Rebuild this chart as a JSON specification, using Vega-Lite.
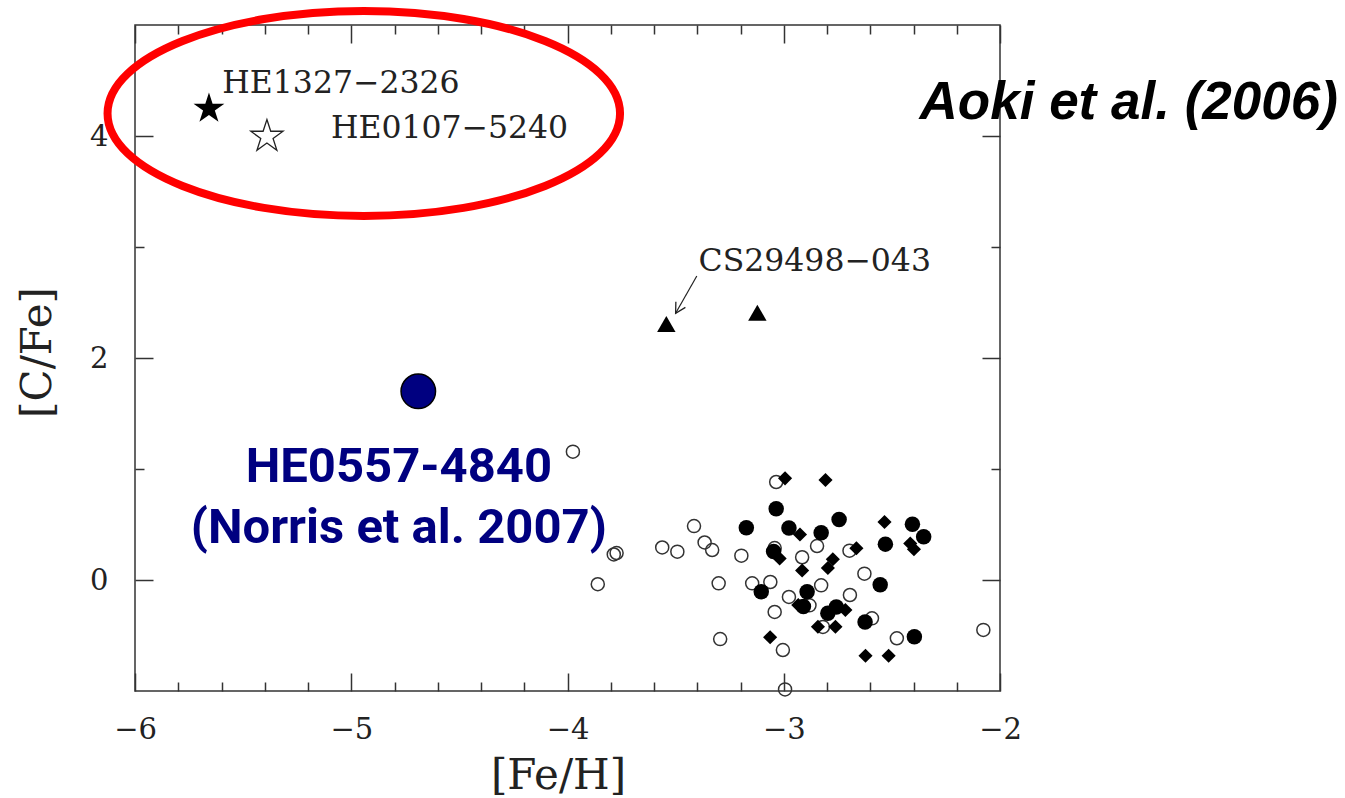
{
  "$schema": "https://vega.github.io/schema/vega-lite/v6.json",
  "autosize": {"type": "none"},
  "padding": {"left": 135, "top": 25, "right": 345, "bottom": 107},
  "width": 865,
  "height": 666,
  "background": "white",
  "config": {
    "view": {"stroke": "#333", "strokeWidth": 1.5},
    "axis": {"grid": false, "domain": false, "tickColor": "#333", "tickWidth": 1.5}
  },
  "datasets": {
    "open": [
      {"feh": -3.975, "cfe": 1.156}, {"feh": -3.786, "cfe": 0.230}, {"feh": -3.773, "cfe": 0.243},
      {"feh": -3.860, "cfe": -0.038}, {"feh": -3.562, "cfe": 0.293}, {"feh": -3.492, "cfe": 0.255},
      {"feh": -3.415, "cfe": 0.486}, {"feh": -3.366, "cfe": 0.338}, {"feh": -3.331, "cfe": 0.270},
      {"feh": -3.301, "cfe": -0.030}, {"feh": -3.294, "cfe": -0.532}, {"feh": -3.196, "cfe": 0.219},
      {"feh": -3.146, "cfe": -0.030}, {"feh": -3.062, "cfe": -0.018}, {"feh": -3.042, "cfe": -0.288},
      {"feh": -3.004, "cfe": -0.631}, {"feh": -2.994, "cfe": -0.986}, {"feh": -3.035, "cfe": 0.883},
      {"feh": -3.042, "cfe": 0.288}, {"feh": -2.846, "cfe": 0.306}, {"feh": -2.915, "cfe": 0.205},
      {"feh": -2.827, "cfe": -0.048}, {"feh": -2.976, "cfe": -0.153}, {"feh": -2.881, "cfe": -0.228},
      {"feh": -2.819, "cfe": -0.423}, {"feh": -2.696, "cfe": 0.264}, {"feh": -2.627, "cfe": 0.057},
      {"feh": -2.694, "cfe": -0.135}, {"feh": -2.592, "cfe": -0.345}, {"feh": -2.477, "cfe": -0.525},
      {"feh": -2.077, "cfe": -0.450}
    ],
    "filled": [
      {"feh": -3.173, "cfe": 0.470}, {"feh": -3.104, "cfe": -0.105}, {"feh": -3.035, "cfe": 0.642},
      {"feh": -2.976, "cfe": 0.468}, {"feh": -2.827, "cfe": 0.426}, {"feh": -2.744, "cfe": 0.545},
      {"feh": -3.047, "cfe": 0.257}, {"feh": -2.892, "cfe": -0.105}, {"feh": -2.909, "cfe": -0.239},
      {"feh": -2.757, "cfe": -0.243}, {"feh": -2.796, "cfe": -0.300}, {"feh": -2.624, "cfe": -0.378},
      {"feh": -2.554, "cfe": -0.042}, {"feh": -2.396, "cfe": -0.511}, {"feh": -2.530, "cfe": 0.323},
      {"feh": -2.405, "cfe": 0.503}, {"feh": -2.353, "cfe": 0.390}
    ],
    "diamond": [
      {"feh": -2.994, "cfe": 0.916}, {"feh": -2.807, "cfe": 0.901}, {"feh": -2.925, "cfe": 0.410},
      {"feh": -3.019, "cfe": 0.194}, {"feh": -2.915, "cfe": 0.086}, {"feh": -2.773, "cfe": 0.187},
      {"feh": -2.796, "cfe": 0.108}, {"feh": -2.664, "cfe": 0.286}, {"feh": -2.534, "cfe": 0.523},
      {"feh": -2.415, "cfe": 0.329}, {"feh": -2.398, "cfe": 0.277}, {"feh": -2.933, "cfe": -0.225},
      {"feh": -2.715, "cfe": -0.270}, {"feh": -2.842, "cfe": -0.421}, {"feh": -2.761, "cfe": -0.421},
      {"feh": -3.063, "cfe": -0.516}, {"feh": -2.622, "cfe": -0.682}, {"feh": -2.515, "cfe": -0.682}
    ],
    "triangles": [{"feh": -3.543, "cfe": 2.306}, {"feh": -3.122, "cfe": 2.408}],
    "starFilled": [{"feh": -5.658, "cfe": 4.26, "star": "HE1327-2326"}],
    "starOpen": [{"feh": -5.39, "cfe": 4.01, "star": "HE0107-5240"}],
    "norris": [{"feh": -4.69, "cfe": 1.70, "star": "HE0557-4840"}],
    "serifLabels": [
      {"feh": -5.596, "cfe": 4.385, "label": "HE1327−2326"},
      {"feh": -5.094, "cfe": 3.979, "label": "HE0107−5240"},
      {"feh": -3.394, "cfe": 2.784, "label": "CS29498−043"}
    ],
    "blueLabels": [
      {"feh": -4.78, "cfe": 0.886, "label": "HE0557-4840"},
      {"feh": -4.78, "cfe": 0.336, "label": "(Norris et al. 2007)"}
    ],
    "source": [{"feh": -2.372, "cfe": 4.155, "label": "Aoki et al. (2006)"}],
    "arrow": [{"feh": -3.402, "cfe": 2.739, "feh2": -3.5, "cfe2": 2.403}],
    "ellipse": [{"feh": -4.942, "cfe": 4.203}]
  },
  "resolve": {"axis": {"x": "independent", "y": "independent"}},
  "layer": [
    {
      "data": {"name": "open"},
      "mark": {"type": "point", "shape": "circle", "filled": false, "stroke": "#333", "strokeWidth": 1.5, "size": 170, "opacity": 1},
      "encoding": {
        "x": {"field": "feh", "type": "quantitative", "scale": {"domain": [-6, -2], "nice": false, "zero": false},
          "axis": {"orient": "bottom", "values": [-6, -5, -4, -3, -2], "ticks": false, "labelFont": "DejaVu Serif", "labelFontSize": 29, "labelColor": "#222", "labelPadding": 24, "labelFlush": false, "labelOverlap": false,
            "title": "[Fe/H]", "titleFont": "DejaVu Serif", "titleFontSize": 42, "titleFontWeight": "normal", "titleColor": "#222", "titleX": 423, "titleY": 97, "titleBaseline": "alphabetic", "titleAlign": "center"}},
        "y": {"field": "cfe", "type": "quantitative", "scale": {"domain": [-1, 5], "nice": false, "zero": false},
          "axis": {"orient": "left", "values": [0, 2, 4], "ticks": false, "labelFont": "DejaVu Serif", "labelFontSize": 29, "labelColor": "#222", "labelPadding": 27, "labelFlush": false, "labelOverlap": false,
            "title": "[C/Fe]", "titleFont": "DejaVu Serif", "titleFontSize": 42, "titleFontWeight": "normal", "titleColor": "#222", "titleX": -85, "titleY": 327, "titleAngle": 270, "titleBaseline": "alphabetic", "titleAlign": "center"}}
      }
    },
    {
      "data": {"name": "filled"},
      "mark": {"type": "point", "shape": "circle", "filled": true, "fill": "#000", "size": 240, "opacity": 1},
      "encoding": {
        "x": {"field": "feh", "type": "quantitative", "scale": {"domain": [-6, -2], "nice": false, "zero": false},
          "axis": {"orient": "bottom", "values": [-6, -5, -4, -3, -2], "tickSize": -18, "labels": false, "title": null}},
        "y": {"field": "cfe", "type": "quantitative", "scale": {"domain": [-1, 5], "nice": false, "zero": false},
          "axis": {"orient": "left", "values": [0, 2, 4], "tickSize": -18, "labels": false, "title": null}}
      }
    },
    {
      "data": {"name": "diamond"},
      "mark": {"type": "point", "shape": "diamond", "filled": true, "fill": "#000", "size": 200, "opacity": 1},
      "encoding": {
        "x": {"field": "feh", "type": "quantitative", "scale": {"domain": [-6, -2], "nice": false, "zero": false},
          "axis": {"orient": "bottom", "values": [-5.8, -5.6, -5.4, -5.2, -4.8, -4.6, -4.4, -4.2, -3.8, -3.6, -3.4, -3.2, -2.8, -2.6, -2.4, -2.2], "tickSize": -9, "labels": false, "title": null}},
        "y": {"field": "cfe", "type": "quantitative", "scale": {"domain": [-1, 5], "nice": false, "zero": false},
          "axis": {"orient": "left", "values": [1, 3], "tickSize": -9, "labels": false, "title": null}}
      }
    },
    {
      "data": {"name": "triangles"},
      "mark": {"type": "point", "shape": "triangle-up", "filled": true, "fill": "#000", "size": 340, "opacity": 1},
      "encoding": {
        "x": {"field": "feh", "type": "quantitative", "scale": {"domain": [-6, -2], "nice": false, "zero": false},
          "axis": {"orient": "top", "values": [-6, -5, -4, -3, -2], "tickSize": -18, "labels": false, "title": null}},
        "y": {"field": "cfe", "type": "quantitative", "scale": {"domain": [-1, 5], "nice": false, "zero": false},
          "axis": {"orient": "right", "values": [0, 2, 4], "tickSize": -18, "labels": false, "title": null}}
      }
    },
    {
      "data": {"name": "starFilled"},
      "mark": {"type": "point", "shape": "M0,-0.9045L0.2245,-0.2135L0.951,-0.2135L0.363,0.2135L0.588,0.9045L0,0.4775L-0.588,0.9045L-0.363,0.2135L-0.951,-0.2135L-0.2245,-0.2135Z", "filled": true, "fill": "#000", "size": 1050, "opacity": 1},
      "encoding": {
        "x": {"field": "feh", "type": "quantitative", "scale": {"domain": [-6, -2], "nice": false, "zero": false},
          "axis": {"orient": "top", "values": [-5.8, -5.6, -5.4, -5.2, -4.8, -4.6, -4.4, -4.2, -3.8, -3.6, -3.4, -3.2, -2.8, -2.6, -2.4, -2.2], "tickSize": -9, "labels": false, "title": null}},
        "y": {"field": "cfe", "type": "quantitative", "scale": {"domain": [-1, 5], "nice": false, "zero": false},
          "axis": {"orient": "right", "values": [1, 3], "tickSize": -9, "labels": false, "title": null}}
      }
    },
    {
      "data": {"name": "starOpen"},
      "mark": {"type": "point", "shape": "M0,-0.9045L0.2245,-0.2135L0.951,-0.2135L0.363,0.2135L0.588,0.9045L0,0.4775L-0.588,0.9045L-0.363,0.2135L-0.951,-0.2135L-0.2245,-0.2135Z", "filled": false, "fill": "#fff", "stroke": "#222", "strokeWidth": 1.3, "size": 1150, "opacity": 1},
      "encoding": {
        "x": {"field": "feh", "type": "quantitative", "scale": {"domain": [-6, -2], "nice": false, "zero": false}, "axis": null},
        "y": {"field": "cfe", "type": "quantitative", "scale": {"domain": [-1, 5], "nice": false, "zero": false}, "axis": null}
      }
    },
    {
      "data": {"name": "norris"},
      "mark": {"type": "point", "shape": "circle", "filled": true, "fill": "#000080", "stroke": "#000", "strokeWidth": 1.5, "size": 1190, "opacity": 1},
      "encoding": {
        "x": {"field": "feh", "type": "quantitative", "scale": {"domain": [-6, -2], "nice": false, "zero": false}, "axis": null},
        "y": {"field": "cfe", "type": "quantitative", "scale": {"domain": [-1, 5], "nice": false, "zero": false}, "axis": null}
      }
    },
    {
      "data": {"name": "arrow"},
      "mark": {"type": "rule", "stroke": "#222", "strokeWidth": 1.2},
      "encoding": {
        "x": {"field": "feh", "type": "quantitative", "scale": {"domain": [-6, -2], "nice": false, "zero": false}, "axis": null},
        "y": {"field": "cfe", "type": "quantitative", "scale": {"domain": [-1, 5], "nice": false, "zero": false}, "axis": null},
        "x2": {"field": "feh2"},
        "y2": {"field": "cfe2"}
      }
    },
    {
      "data": {"name": "arrow"},
      "mark": {"type": "point", "shape": "M-1,-0.55L0,0L-1,0.55", "filled": false, "stroke": "#222", "strokeWidth": 1.3, "size": 400, "angle": 120, "opacity": 1},
      "encoding": {
        "x": {"field": "feh2", "type": "quantitative", "scale": {"domain": [-6, -2], "nice": false, "zero": false}, "axis": null},
        "y": {"field": "cfe2", "type": "quantitative", "scale": {"domain": [-1, 5], "nice": false, "zero": false}, "axis": null}
      }
    },
    {
      "data": {"name": "serifLabels"},
      "mark": {"type": "text", "font": "DejaVu Serif", "fontSize": 31.5, "align": "left", "baseline": "alphabetic", "fill": "#222"},
      "encoding": {
        "x": {"field": "feh", "type": "quantitative", "scale": {"domain": [-6, -2], "nice": false, "zero": false}, "axis": null},
        "y": {"field": "cfe", "type": "quantitative", "scale": {"domain": [-1, 5], "nice": false, "zero": false}, "axis": null},
        "text": {"field": "label"}
      }
    },
    {
      "data": {"name": "blueLabels"},
      "mark": {"type": "text", "font": "Roboto", "fontSize": 49, "fontWeight": "bold", "align": "center", "baseline": "alphabetic", "fill": "#000080"},
      "encoding": {
        "x": {"field": "feh", "type": "quantitative", "scale": {"domain": [-6, -2], "nice": false, "zero": false}, "axis": null},
        "y": {"field": "cfe", "type": "quantitative", "scale": {"domain": [-1, 5], "nice": false, "zero": false}, "axis": null},
        "text": {"field": "label"}
      }
    },
    {
      "data": {"name": "source"},
      "mark": {"type": "text", "font": "Liberation Sans", "fontSize": 53, "fontWeight": "bold", "fontStyle": "italic", "align": "left", "baseline": "alphabetic", "fill": "#000"},
      "encoding": {
        "x": {"field": "feh", "type": "quantitative", "scale": {"domain": [-6, -2], "nice": false, "zero": false}, "axis": null},
        "y": {"field": "cfe", "type": "quantitative", "scale": {"domain": [-1, 5], "nice": false, "zero": false}, "axis": null},
        "text": {"field": "label"}
      }
    },
    {
      "data": {"name": "ellipse"},
      "mark": {"type": "point", "shape": "M-1,0A1,0.4,0,1,0,1,0A1,0.4,0,1,0,-1,0Z", "filled": false, "stroke": "#ff0000", "strokeWidth": 8, "size": 262656, "opacity": 1},
      "encoding": {
        "x": {"field": "feh", "type": "quantitative", "scale": {"domain": [-6, -2], "nice": false, "zero": false}, "axis": null},
        "y": {"field": "cfe", "type": "quantitative", "scale": {"domain": [-1, 5], "nice": false, "zero": false}, "axis": null}
      }
    }
  ]
}
